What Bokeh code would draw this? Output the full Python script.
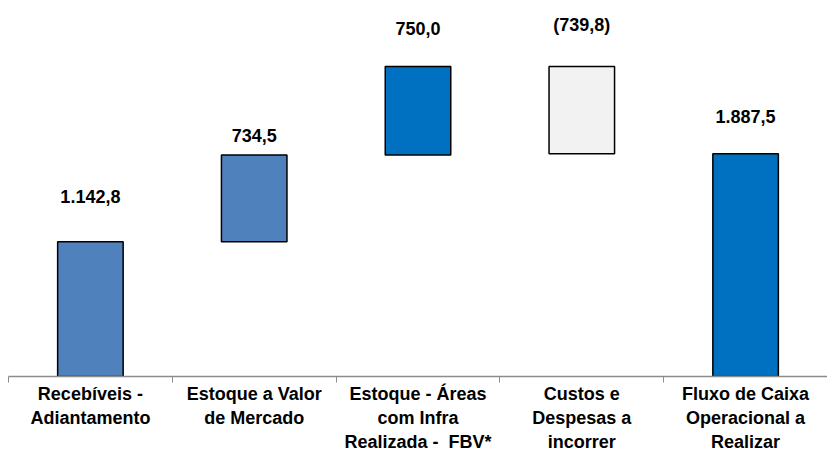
from bokeh.plotting import figure
from bokeh.models import ColumnDataSource, Range1d, FixedTicker, LinearAxis
from bokeh.embed import file_html
from bokeh.resources import INLINE
from bokeh.core.properties import value

categories = [
    "Recebíveis -\nAdiantamento",
    "Estoque a Valor\nde Mercado",
    "Estoque - Áreas\ncom Infra\nRealizada - \u00a0FBV*",
    "Custos e\nDespesas a\nincorrer",
    "Fluxo de Caixa\nOperacional a\nRealizar",
]
steps = [1142.8, 734.5, 750.0, -739.8]
total = 1887.5
colors = ["#4F81BD", "#4F81BD", "#0070C0", "#F2F2F2", "#0070C0"]
label_offset_px = [45, 19, 38, 41, 37]


def fmt(v):
    s = f"{abs(v):,.1f}".replace(",", "X").replace(".", ",").replace("X", ".")
    return f"({s})" if v < 0 else s


bottoms, tops, vals = [], [], []
run = 0.0
for s in steps:
    bottoms.append(min(run, run + s))
    tops.append(max(run, run + s))
    vals.append(s)
    run += s
bottoms.append(0.0)
tops.append(total)
vals.append(total)

xs = [i + 0.5 for i in range(len(categories))]
src = ColumnDataSource(dict(
    x=xs, bottom=bottoms, top=tops, color=colors,
    label=[fmt(v) for v in vals], ly=tops,
    yoff=[-o for o in label_offset_px],
))

p = figure(frame_width=819, frame_height=376, output_backend="svg", toolbar_location=None,
           x_range=Range1d(0, 5), y_range=Range1d(0, 3186),
           min_border_left=8, min_border_right=0, min_border_top=0, min_border_bottom=0,
           x_axis_location=None, y_axis_location=None)
p.outline_line_color = None
p.xgrid.visible = False
p.ygrid.visible = False

p.vbar(x="x", width=0.4, bottom="bottom", top="top", source=src,
       fill_color="color", line_color="#000000", line_width=1.5)

p.text(x="x", y="ly", text="label", source=src, y_offset="yoff",
       text_align="center", text_baseline="middle",
       text_font=value("Liberation Sans"), text_font_style="bold",
       text_font_size="18px", text_color="#000000")

ax = LinearAxis()
ax.ticker = FixedTicker(ticks=xs, minor_ticks=[0, 1, 2, 3, 4, 5])
ax.major_label_overrides = {x: c for x, c in zip(xs, categories)}
ax.major_tick_out = 0
ax.major_tick_in = 0
ax.minor_tick_out = 6
ax.minor_tick_in = 0
ax.minor_tick_line_color = "#8C8C8C"
ax.axis_line_color = "#8C8C8C"
ax.axis_line_width = 1.5
ax.major_label_standoff = 1
ax.major_label_text_font = "Liberation Sans"
ax.major_label_text_font_style = "bold"
ax.major_label_text_font_size = "18px"
ax.major_label_text_line_height = 1.22
ax.major_label_text_color = "#000000"
ax.major_label_text_align = "center"
p.add_layout(ax, "below")

open("out.html", "w").write(file_html(p, INLINE))
